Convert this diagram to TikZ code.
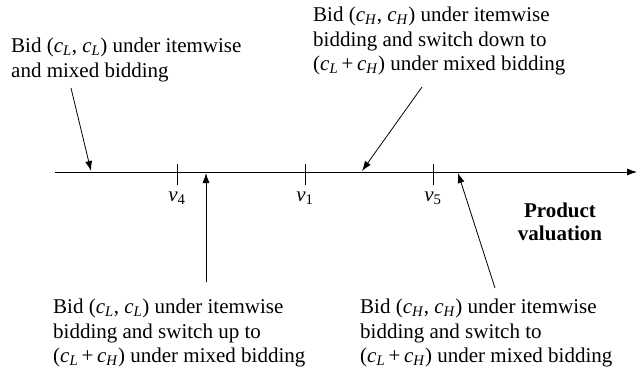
\documentclass[tikz,border=0pt]{standalone}
\usepackage{fontspec}
\setmainfont{Liberation Serif}
\usetikzlibrary{arrows.meta}
\newcommand\ci[1]{\textit{c}\textsubscript{\textit{#1}}}
\newcommand\vi[1]{\textit{v}\textsubscript{#1}}
\begin{document}
\begin{tikzpicture}[x=1pt,y=-1pt,
  font=\fontsize{21}{24.5}\selectfont,
  lbl/.style={inner sep=0pt, align=left, anchor=west},
  vlbl/.style={inner sep=0pt},
  arr/.style={-{Latex[length=10pt,width=7pt]}, line width=0.8pt},
  tick/.style={line width=0.8pt}]
\useasboundingbox (0,0) rectangle (637,375);
% axis
\coordinate (a0) at (55,172);
\coordinate (a1) at (637,172);
\draw[arr] (a0) -- (a1);
% ticks
\foreach \x/\n/\s in {177/v4/4, 305/v1/1, 433/v5/5}{
  \coordinate (\n top) at (\x,164);
  \coordinate (\n bot) at (\x,185);
  \draw[tick] (\n top) -- (\n bot);
  \node[vlbl] (\n) at (\x,198) {\vi{\s}};
}
% texts
\node[lbl] (tl) at (11,60) {Bid (\ci{L}, \ci{L}) under itemwise\\and mixed bidding};
\node[lbl] (tr) at (313,41) {Bid (\ci{H}, \ci{H}) under itemwise\\bidding and switch down to\\(\ci{L}\,+\,\ci{H}) under mixed bidding};
\node[lbl] (bl) at (53,333) {Bid (\ci{L}, \ci{L}) under itemwise\\bidding and switch up to\\(\ci{L}\,+\,\ci{H}) under mixed bidding};
\node[lbl] (br) at (360,333) {Bid (\ci{H}, \ci{H}) under itemwise\\bidding and switch to\\(\ci{L}\,+\,\ci{H}) under mixed bidding};
\node[inner sep=0pt, align=center, font=\fontsize{21}{23.5}\selectfont\bfseries] (pv) at (560,222) {Product\\valuation};
% arrows
\coordinate (s1) at (71,88);   \coordinate (t1) at (91,171);
\coordinate (s2) at (422,87);  \coordinate (t2) at (362,171);
\coordinate (s3) at (206,282); \coordinate (t3) at (206,173);
\coordinate (s4) at (495,288); \coordinate (t4) at (458,173);
\draw[arr] (s1) -- (t1);
\draw[arr] (s2) -- (t2);
\draw[arr] (s3) -- (t3);
\draw[arr] (s4) -- (t4);
\end{tikzpicture}
\end{document}
